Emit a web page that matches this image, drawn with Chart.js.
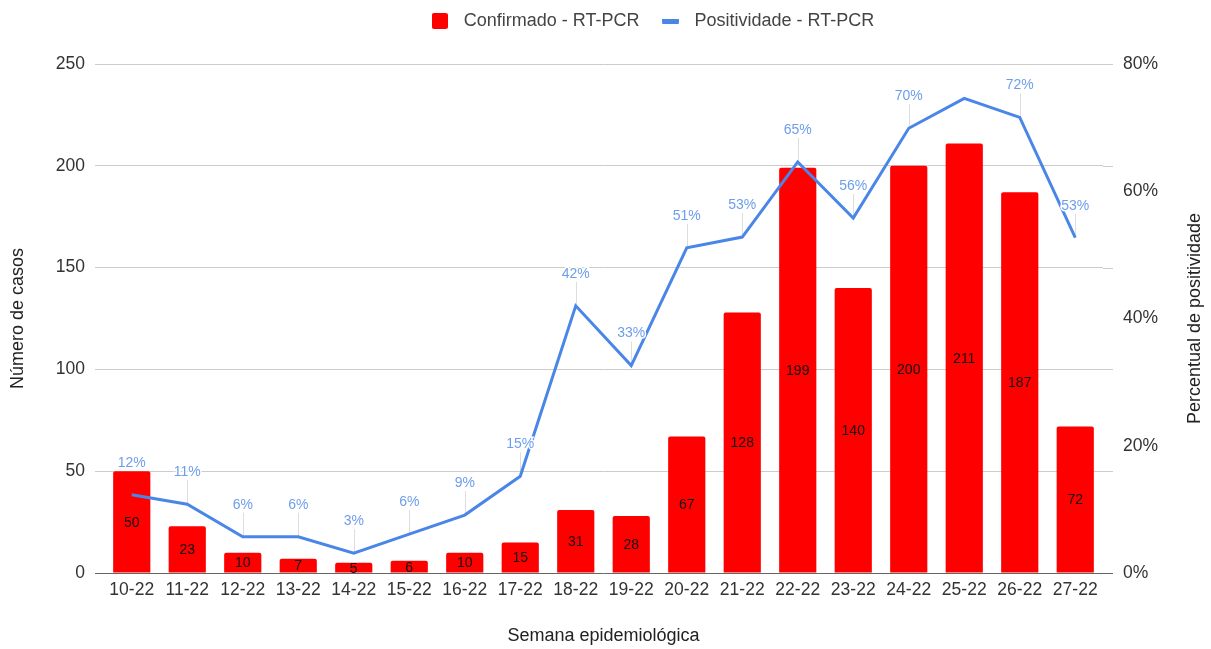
<!DOCTYPE html>
<html><head><meta charset="utf-8">
<script src="https://cdn.jsdelivr.net/npm/chart.js@4"></script>
<style>html,body{margin:0;background:#fff}</style>
</head><body>
<canvas id="c" width="1211" height="649"></canvas>
<script>
/* ===== Confirmados x Positividade RT-PCR ===== */
const semanas = ['10-22', '11-22', '12-22', '13-22', '14-22', '15-22', '16-22', '17-22', '18-22',
  '19-22', '20-22', '21-22', '22-22', '23-22', '24-22', '25-22', '26-22', '27-22'];
const confirmados = [50, 23, 10, 7, 5, 6, 10, 15, 31, 28, 67, 128, 199, 140, 200, 211, 187, 72];
const positividade = [12.3, 10.8, 5.7, 5.7, 3.1, 6.1, 9.1, 15.2, 42.0, 32.6, 51.1, 52.8, 64.6, 55.8, 69.9, 74.6, 71.6, 52.7];
const rotulosPos = ['12%', '11%', '6%', '6%', '3%', '6%', '9%', '15%', '42%', '33%', '51%', '53%', '65%', '56%', '70%', '', '72%', '53%'];
const ticksCasos = [0, 50, 100, 150, 200, 250];
const ticksPos = [0, 20, 40, 60, 80];

const FONT = '"Liberation Sans", Arial, sans-serif';
const AZUL = '#4a86e8', VERMELHO = '#ff0000';
const TICK = { family: FONT, size: 17.5 };
const TIT = { family: FONT, size: 18 };

function marker(w, h, color, r) {
  const c = document.createElement('canvas'); c.width = w; c.height = h;
  const g = c.getContext('2d'); g.fillStyle = color;
  g.beginPath(); g.roundRect(0, 0, w, h, r); g.fill();
  return c;
}
const MK = [marker(16, 16, VERMELHO, 2), marker(17, 5, AZUL, 1)];

// legenda fixa, grade um pouco além da área à direita, rótulos de dados
const extras = {
  id: 'extras',
  beforeLayout(c) {
    const lg = c.legend;
    if (lg && !lg._fixed) { const f = lg.fit; lg.fit = function () { f.call(this); this.height = 61; }; lg._fixed = true; }
  },
  afterLayout(c) {
    const lg = c.legend;
    if (lg) { lg.left += 88; lg.top -= 7; }
  },
  beforeDatasetsDraw(c) {
    const { ctx, chartArea: a } = c; const y = c.scales.y;
    ctx.save(); ctx.lineWidth = 1;
    y.ticks.forEach(t => {
      const py = Math.round(y.getPixelForValue(t.value)) + 0.5;
      ctx.strokeStyle = t.value === 0 ? '#666' : '#ccc';
      ctx.beginPath(); ctx.moveTo(a.right, py); ctx.lineTo(a.right + 10, py); ctx.stroke();
    });
    const meta = c.getDatasetMeta(1);
    ctx.strokeStyle = '#ddd';
    meta.data.forEach((p, i) => {
      if (!rotulosPos[i]) return;
      const x = Math.round(p.x) + 0.5;
      ctx.beginPath(); ctx.moveTo(x, p.y - 24); ctx.lineTo(x, p.y); ctx.stroke();
    });
    ctx.restore();
  },
  afterDatasetsDraw(c) {
    const { ctx, chartArea: a } = c;
    ctx.save(); ctx.textAlign = 'center'; ctx.textBaseline = 'middle';
    ctx.font = '14px ' + FONT; ctx.fillStyle = '#111';
    c.getDatasetMeta(0).data.forEach((b, i) => ctx.fillText(String(confirmados[i]), b.x, (b.y + b.base) / 2 + 1));
    ctx.lineWidth = 3; ctx.strokeStyle = '#fff'; ctx.fillStyle = '#6d9eeb';
    c.getDatasetMeta(1).data.forEach((p, i) => {
      if (!rotulosPos[i]) return;
      ctx.strokeText(rotulosPos[i], p.x, p.y - 32);
      ctx.fillText(rotulosPos[i], p.x, p.y - 32);
    });
    // título do eixo direito (lido de baixo para cima)
    ctx.translate(1195, (a.top + a.bottom) / 2); ctx.rotate(-Math.PI / 2);
    ctx.font = '18px ' + FONT; ctx.fillStyle = '#222';
    ctx.fillText('Percentual de positividade', 0, 0);
    ctx.restore();
  },
};

new Chart(document.getElementById('c'), {
  data: {
    labels: semanas,
    datasets: [
      { type: 'bar', label: 'Confirmado - RT-PCR', data: confirmados, yAxisID: 'y', order: 1,
        backgroundColor: VERMELHO, borderRadius: 2, borderSkipped: 'bottom', barPercentage: 0.67, categoryPercentage: 1 },
      { type: 'line', label: 'Positividade - RT-PCR', data: positividade, yAxisID: 'y1', order: 0,
        borderColor: AZUL, borderWidth: 3, pointRadius: 0, tension: 0, fill: false },
    ],
  },
  options: {
    responsive: false, animation: false,
    layout: { padding: { top: 3, left: 0, right: 0, bottom: 0 } },
    plugins: {
      tooltip: { enabled: false },
      legend: {
        position: 'top',
        labels: {
          usePointStyle: true, pointStyleWidth: 30, boxHeight: 15, padding: 16,
          color: '#444', font: TIT,
          generateLabels: ch => ch.data.datasets.map((d, i) => ({
            text: d.label, pointStyle: MK[i], fillStyle: 'transparent', strokeStyle: 'transparent',
            lineWidth: 0, datasetIndex: i, hidden: false, fontColor: '#444',
          })),
        },
      },
    },
    scales: {
      x: {
        grid: { display: false, drawTicks: false }, border: { display: false },
        ticks: { color: '#333', font: TICK, padding: 7, maxRotation: 0, autoSkip: false },
        title: { display: true, text: 'Semana epidemiológica', color: '#222', font: TIT, padding: { top: 4, bottom: 2 } },
        afterFit: s => { s.height = 76; },
      },
      y: {
        position: 'left', min: 0, max: 250,
        afterBuildTicks: s => { s.ticks = ticksCasos.map(v => ({ value: v })); },
        grid: { color: ctx => ctx.tick && ctx.tick.value === 0 ? '#666' : '#ccc', tickLength: 9, drawTicks: true },
        border: { display: false },
        ticks: { color: '#333', font: TICK, padding: 10 },
        title: { display: true, text: 'Número de casos', color: '#222', font: TIT, padding: { top: 7, bottom: 4 } },
        afterFit: s => { s.width = 104; },
      },
      y1: {
        position: 'right', min: 0, max: 80,
        afterBuildTicks: s => { s.ticks = ticksPos.map(v => ({ value: v })); },
        grid: { display: false, drawTicks: false }, border: { display: false },
        ticks: { color: '#333', font: TICK, padding: 20, callback: v => v + '%' },
        afterFit: s => { s.width = 108; },
      },
    },
  },
  plugins: [extras],
});
</script>
</body></html>
